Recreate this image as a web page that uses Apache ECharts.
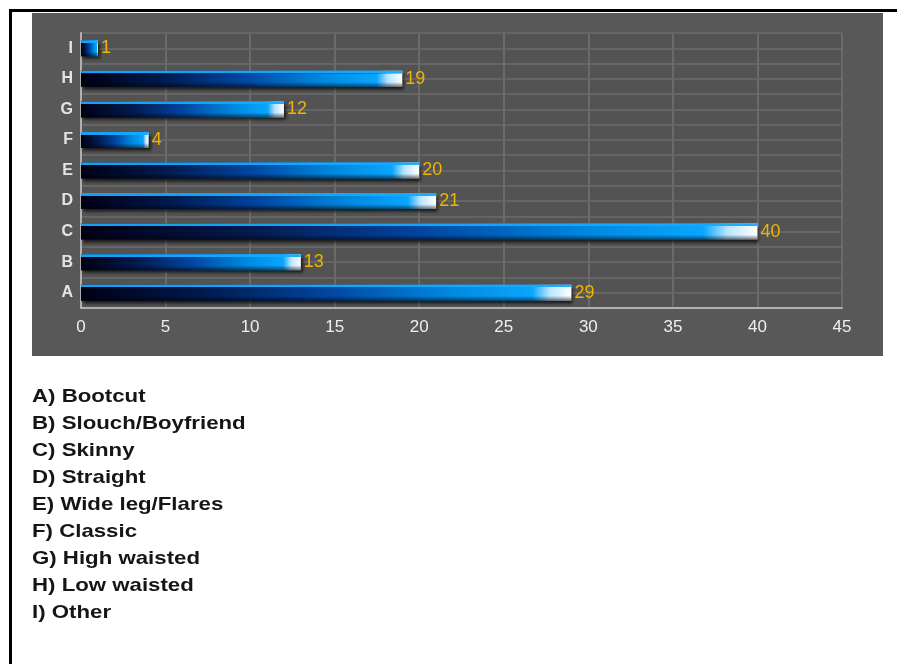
<!DOCTYPE html>
<html>
<head>
<meta charset="utf-8">
<script src="https://cdn.jsdelivr.net/npm/echarts@6/dist/echarts.min.js"></script>
<style>
html,body{margin:0;padding:0;background:#fff;}
#c{width:897px;height:664px;}
</style>
</head>
<body>
<div id="c"></div>
<script>
var categories = ['A', 'B', 'C', 'D', 'E', 'F', 'G', 'H', 'I'];
var values = [29, 13, 40, 21, 20, 4, 12, 19, 1];
var xTicks = [0, 5, 10, 15, 20, 25, 30, 35, 40, 45];
var legendLines = ['A) Bootcut', 'B) Slouch/Boyfriend', 'C) Skinny', 'D) Straight', 'E) Wide leg/Flares', 'F) Classic', 'G) High waisted', 'H) Low waisted', 'I) Other'];

var chart = echarts.init(document.getElementById('c'), null, {renderer: 'canvas'});

var graphics = [
  {type: 'rect', z: -10, shape: {x: 32, y: 13, width: 851, height: 343}, style: {fill: '#585858'}},
  {type: 'rect', z: 100, shape: {x: 9, y: 9, width: 888, height: 3}, style: {fill: '#000'}},
  {type: 'rect', z: 100, shape: {x: 9, y: 9, width: 3, height: 655}, style: {fill: '#000'}}
];
legendLines.forEach(function (t, i) {
  graphics.push({
    type: 'text', x: 32, y: 397 + i * 27, scaleX: 1.17, originX: 0,
    style: {text: t, fill: '#151515', font: 'bold 19px "Liberation Sans", Arial, sans-serif', verticalAlign: 'middle', textVerticalAlign: 'middle'}
  });
});

var barGrad = new echarts.graphic.LinearGradient(0, 0, 1, 0, [
  {offset: 0, color: '#000014'},
  {offset: 0.25, color: '#001a4e'},
  {offset: 0.5, color: '#0045a0'},
  {offset: 0.75, color: '#0088e0'},
  {offset: 0.92, color: '#0aa6ff'},
  {offset: 0.955, color: '#b8e4ff'},
  {offset: 1, color: '#ffffff'}
]);
var overlayGrad = new echarts.graphic.LinearGradient(0, 0, 0, 1, [
  {offset: 0, color: 'rgba(20,170,255,0.95)'},
  {offset: 0.16, color: 'rgba(20,170,255,0.95)'},
  {offset: 0.17, color: 'rgba(0,0,0,0)'},
  {offset: 0.7, color: 'rgba(0,0,0,0)'},
  {offset: 1, color: 'rgba(0,0,10,0.55)'}
]);

chart.setOption({
  animation: false,
  graphic: graphics,
  grid: {left: 81, right: 55, top: 33, bottom: 356, backgroundColor: '#535353', show: true, borderWidth: 0},
  xAxis: {
    type: 'value', min: 0, max: 45, interval: 5,
    axisLine: {show: true, lineStyle: {color: '#b0b0b0', width: 2}},
    axisTick: {show: false},
    axisLabel: {color: '#eeeeee', fontSize: 17, fontFamily: 'Liberation Sans, Arial, sans-serif', margin: 11},
    splitLine: {show: true, lineStyle: {color: '#6a6a6a', width: 2}}
  },
  yAxis: [{
    type: 'category', data: categories,
    axisLine: {show: true, onZero: false, lineStyle: {color: '#b0b0b0', width: 2}},
    axisTick: {show: false},
    axisLabel: {color: '#e4e4e4', fontSize: 16, fontWeight: 'bold', fontFamily: 'Liberation Sans, Arial, sans-serif', margin: 8},
    splitLine: {show: false}
  }, {
    type: 'value', min: 0, max: 18, interval: 1, position: 'right',
    axisLine: {show: false}, axisTick: {show: false}, axisLabel: {show: false},
    splitLine: {show: true, lineStyle: {color: '#656565', width: 2}}
  }],
  series: [{
    type: 'bar', yAxisIndex: 0, data: values, barWidth: 16,
    itemStyle: {color: barGrad, shadowColor: 'rgba(0,0,0,0.7)', shadowBlur: 3, shadowOffsetY: 3, shadowOffsetX: 2},
    label: {show: true, position: 'right', distance: 3, color: '#f0b400', fontSize: 18, fontFamily: 'Liberation Sans, Arial, sans-serif'},
    z: 3
  }, {
    type: 'bar', yAxisIndex: 0, data: values, barWidth: 16, barGap: '-100%', silent: true,
    itemStyle: {color: overlayGrad},
    z: 4
  }]
});
</script>
</body>
</html>
